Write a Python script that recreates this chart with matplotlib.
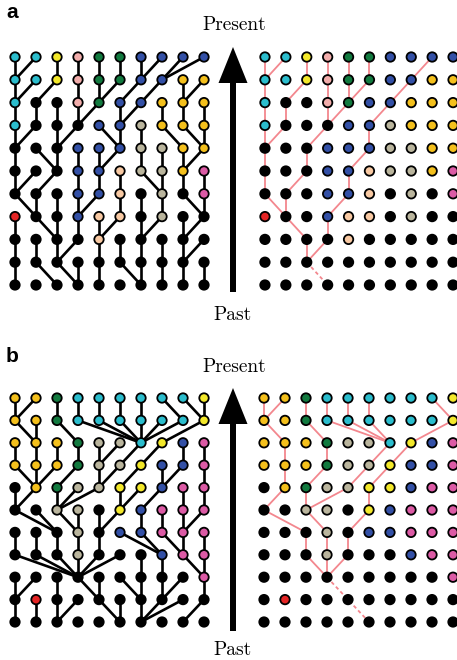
import matplotlib.pyplot as plt
from matplotlib.patches import FancyArrow

W, H = 457, 660

# parent column (one row further down = one generation back) of every node, rows top->bottom
parents_a = [
    [0, 0, 2, 3, 4, 5, 6, 6, 7, 7],
    [0, 0, 1, 3, 4, 4, 5, 6, 8, 8],
    [0, 1, 2, 3, 3, 5, 5, 7, 8, 9],
    [0, 0, 2, 2, 5, 5, 6, 8, 9, 9],
    [0, 2, 2, 3, 4, 4, 6, 7, 8, 8],
    [0, 0, 1, 3, 4, 5, 7, 7, 8, 9],
    [1, 1, 2, 3, 3, 5, 6, 7, 9, 9],
    [0, 2, 2, 3, 4, 4, 6, 6, 8, 8],
    [0, 1, 2, 2, 4, 5, 6, 7, 8, 8],
    [0, 2, 3, 3, 4, 6, 6, 7, 8, 9],
]
colors_a = [
    'ccypggbbbb',
    'ccypggbboo',
    'ckkpgbbooo',
    'ckkkbbsooo',
    'kkkbbbssoo',
    'kkkbbessom',
    'kkkbbekskm',
    'rkkbeeksk' + 'k',
    'kkkkekkkkk',
    'kkkkkkkkkk',
    'kkkkkkkkkk',
]

parents_b = [
    [0, 0, 2, 3, 4, 5, 6, 8, 9, 9],
    [1, 1, 3, 6, 6, 6, 6, 6, 6, 7],
    [0, 1, 2, 3, 4, 4, 5, 6, 8, 9],
    [1, 1, 1, 2, 4, 4, 5, 7, 7, 9],
    [0, 0, 2, 2, 2, 5, 5, 6, 8, 9],
    [2, 2, 3, 3, 4, 4, 6, 7, 8, 8],
    [0, 1, 2, 3, 4, 7, 7, 8, 8, 9],
    [3, 3, 3, 3, 3, 3, 6, 7, 9, 9],
    [0, 0, 2, 4, 4, 6, 6, 7, 7, 9],
    [0, 1, 2, 2, 5, 5, 6, 6, 6, 8],
]
colors_b = [
    'oogccccccyy'[:10],
    'oogccccccy',
    'ooogsscybm',
    'ooogssybbm',
    'kogssyybmm',
    'kksskybmmm',
    'kkkskbbmmm',
    'kkkskkkbmm',
    'kkkkkkkkkm',
    'krkkkkkkkk',
    'kkkkkkkkkk',
]

# present-day individuals whose genealogy is traced on the right
sample = [0, 1, 2, 3, 4, 5, 8]

palette = {
    'k': 'black', 'c': '#2bbdcd', 'o': '#f4c01c', 'y': '#f3e82a',
    'p': '#f2adab', 'g': '#127a3f', 'b': '#3350a6', 's': '#bab59d',
    'e': '#f8c9a3', 'm': '#dc5aa5', 'r': '#e42424',
}
pink = '#f3878e'


def px_axes(fig, x0, top, w, h):
    ax = fig.add_axes([x0 / W, 1 - (top + h) / H, w / W, h / H])
    ax.set_xlim(-0.5, 9.5)
    ax.set_ylim(10.5, -0.5)
    ax.axis('off')
    return ax


def draw_dots(ax, colors):
    xs, ys, fcs = [], [], []
    for r, row in enumerate(colors):
        for c, code in enumerate(row):
            xs.append(c)
            ys.append(r)
            fcs.append(palette[code])
    ax.scatter(xs, ys, s=46, c=fcs, edgecolors='black', linewidths=1.3, zorder=3)


def draw_tree(ax, parents):
    for r, row in enumerate(parents):
        for c, p in enumerate(row):
            ax.plot([c, p], [r, r + 1], color='black', lw=1.9,
                    solid_capstyle='round', zorder=1)


def draw_sample_tree(ax, parents, sample):
    lineages = set(sample)
    r = 0
    while len(lineages) > 1:
        for c in lineages:
            ax.plot([c, parents[r][c]], [r, r + 1], color=pink, lw=1.3, zorder=1)
        lineages = {parents[r][c] for c in lineages}
        r += 1
    c = lineages.pop()
    xs, ys = [c], [r]
    while r < len(parents):
        c = parents[r][c]
        r += 1
        xs.append(c)
        ys.append(r)
    ax.plot(xs, ys, color=pink, lw=1.3, ls=(0, (2, 1.6)), zorder=1)


fig = plt.figure(figsize=(W / 100, H / 100), dpi=100)

bg = fig.add_axes([0, 0, 1, 1])
bg.set_xlim(0, W)
bg.set_ylim(H, 0)
bg.axis('off')

serif = 'cmr10'
for tip, bottom, y_present, y_past, letter_y, letter in [
        (47, 292, 25, 315, 13, 'a'), (388, 631, 367, 650, 356, 'b')]:
    bg.add_patch(FancyArrow(233, bottom, 0, tip - bottom, width=6, head_width=29,
                            head_length=36, length_includes_head=True,
                            color='black', lw=0))
    bg.text(234, y_present, 'Present', ha='center', va='center',
            fontsize=14, family=serif)
    bg.text(233, y_past, 'Past', ha='center', va='center',
            fontsize=14, family=serif)
    bg.text(12, letter_y, letter, ha='center', va='center', fontsize=15,
            fontweight='bold', family='Liberation Sans')

ax1 = px_axes(fig, 4.5, 45.6, 210, 250.8)
draw_tree(ax1, parents_a)
draw_dots(ax1, colors_a)

ax2 = px_axes(fig, 254.5, 45.6, 209, 250.8)
draw_sample_tree(ax2, parents_a, sample)
draw_dots(ax2, colors_a)

ax3 = px_axes(fig, 4.5, 386.8, 210, 246.4)
draw_tree(ax3, parents_b)
draw_dots(ax3, colors_b)

ax4 = px_axes(fig, 253.5, 386.8, 210, 246.4)
draw_sample_tree(ax4, parents_b, sample)
draw_dots(ax4, colors_b)

fig.savefig('out.png', dpi=100)
